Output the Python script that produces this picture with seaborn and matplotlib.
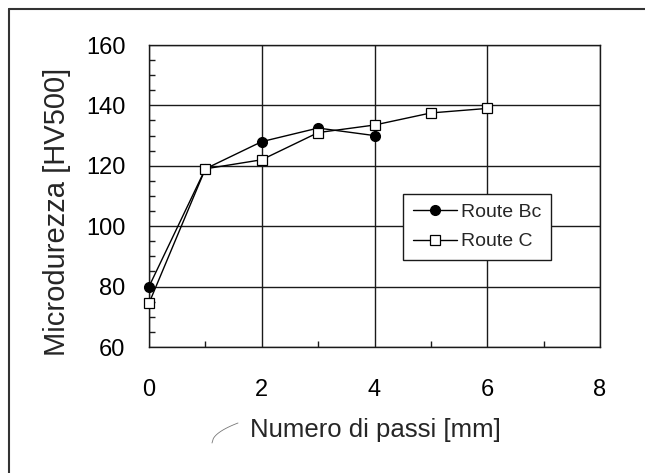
import numpy as np
import pandas as pd
import matplotlib
matplotlib.use("Agg")
import matplotlib.pyplot as plt
from matplotlib.ticker import MultipleLocator
from matplotlib.lines import Line2D
import seaborn as sns

# ---- data ----
passi_bc = [0, 1, 2, 3, 4]
hv_bc = [80, 119, 128, 132.5, 130]
passi_c = [0, 1, 2, 3, 4, 5, 6]
hv_c = [74.5, 119, 122, 131, 133.5, 137.5, 139]
series_names = ["Route Bc", "Route C"]
x_label = "Numero di passi [mm]"
y_label = "Microdurezza [HV500]"

sns.set_theme(style="white")
plt.rcParams['font.family'] = ['Liberation Sans', 'DejaVu Sans']

fig = plt.figure(figsize=(6.45, 4.73), dpi=100)
W, H = 645, 473
ax = fig.add_axes([149 / W, 1 - 347 / H, 451 / W, 302 / H])

df_bc = pd.DataFrame({"passi": passi_bc, "hv": hv_bc})
df_c = pd.DataFrame({"passi": passi_c, "hv": hv_c})

sns.lineplot(data=df_bc, x="passi", y="hv", ax=ax, color="black", linewidth=1,
             marker="o", markersize=7, markerfacecolor="black",
             markeredgecolor="black", markeredgewidth=1, clip_on=False,
             label=series_names[0], zorder=5)
sns.lineplot(data=df_c, x="passi", y="hv", ax=ax, color="black", linewidth=1,
             marker="s", markersize=6.5, markerfacecolor="white",
             markeredgecolor="black", markeredgewidth=0.9, clip_on=False,
             label=series_names[1], zorder=5)

ax.set_xlim(0, 8)
ax.set_ylim(60, 160)
ax.xaxis.set_major_locator(MultipleLocator(2))
ax.xaxis.set_minor_locator(MultipleLocator(1))
ax.yaxis.set_major_locator(MultipleLocator(20))
ax.yaxis.set_minor_locator(MultipleLocator(5))

ax.grid(True, which="major", color="#1a1a1a", linewidth=1)
ax.set_axisbelow(True)
for s in ax.spines.values():
    s.set_color("#1a1a1a")
    s.set_linewidth(1)

ax.tick_params(axis="both", which="major", direction="out", length=7, width=1,
               color="#1a1a1a", labelsize=17, labelcolor="black")
ax.tick_params(axis="x", which="major", pad=16)
ax.tick_params(axis="y", which="major", pad=10)
ax.tick_params(axis="both", which="minor", direction="in", length=4, width=1,
               color="#1a1a1a", bottom=True, left=True)

ax.set_xlabel("")
ax.set_ylabel("")
fig.text(375 / W, 1 - 430 / H, x_label, ha="center", va="center", fontsize=18.5)
fig.text(57 / W, 1 - 212 / H, y_label, ha="center", va="center", fontsize=21,
         rotation=90)

leg = ax.legend(loc="upper left", bbox_to_anchor=(0.563, 0.507), borderaxespad=0,
                fontsize=14, frameon=True, fancybox=False, framealpha=1,
                edgecolor="#1a1a1a", handlelength=2.3, handletextpad=0.2,
                labelspacing=0.6, borderpad=0.5)
leg.get_frame().set_linewidth(1)

# page frame (scanned border) and small pen mark
fig.add_artist(Line2D([8.5 / W, 8.5 / W], [0, 1 - 9 / H], transform=fig.transFigure,
                      color="#333333", linewidth=1.5))
fig.add_artist(Line2D([8.5 / W, 1], [1 - 9 / H, 1 - 9 / H], transform=fig.transFigure,
                      color="#333333", linewidth=1.5))
t = np.linspace(0, 1, 20)
arc_x = 212 + 26 * t
arc_y = 443 - 20 * np.sqrt(t)
fig.add_artist(Line2D(arc_x / W, 1 - arc_y / H, transform=fig.transFigure,
                      color="#777777", linewidth=0.6))

fig.savefig("out.png", dpi=100)
